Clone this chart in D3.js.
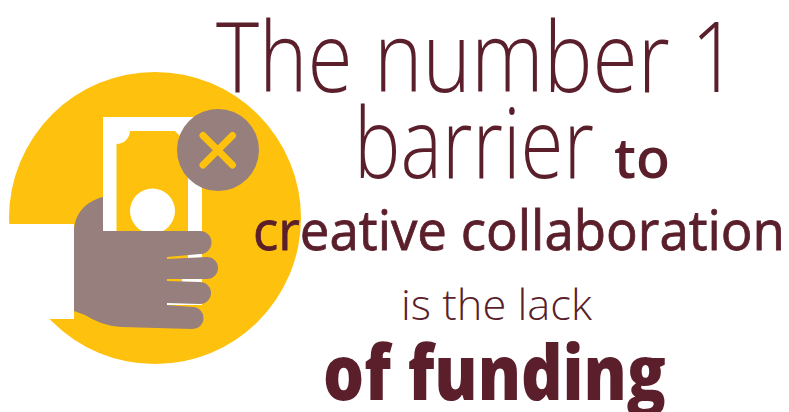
<!DOCTYPE html>
<html><head><meta charset="utf-8"><script src="https://d3js.org/d3.v7.min.js"></script>
<style>html,body{margin:0;background:#fff}svg{display:block}</style></head><body><div id="c"></div>
<script>
const lines=["The number 1","barrier","to","creative collaboration","is the lack","of funding"];
const svg=d3.select("#c").append("svg").attr("width",789).attr("height",412);
const ink="#5a1f2b",gold="#fec10d",grey="#967f7c";
svg.append("circle").attr("cx",155).attr("cy",218).attr("r",146).attr("fill",gold);
svg.append("rect").attr("x",0).attr("y",224).attr("width",74).attr("height",95).attr("fill","#fff");
// bill
svg.append("rect").attr("x",103).attr("y",117).attr("width",99).attr("height",188).attr("fill","#fff");
svg.append("path").attr("fill",gold).attr("d","M130 131H175L188 144V282H116.5V144A13.5 13.5 0 0 0 130 131Z");
svg.append("circle").attr("cx",152.5).attr("cy",211).attr("r",22.5).attr("fill","#fff");
svg.append("rect").attr("x",182).attr("y",279).attr("width",20).attr("height",26).attr("fill","#fff");
svg.append("rect").attr("x",188).attr("y",250).attr("width",14).attr("height",10).attr("fill","#fff");
// badge
svg.append("circle").attr("cx",218).attr("cy",150).attr("r",41).attr("fill",grey);
svg.append("path").attr("d","M203 135.500L232.500 165M232.500 135.500L203 165").attr("stroke",gold).attr("stroke-width",7).attr("stroke-linecap","round").attr("fill","none");
// hand
svg.append("path").attr("fill",grey).attr("d","M103 197C86 201 74 214 74 232V311L85 315C97 322 106 326 122 327L192 329A11 11 0 0 0 193 307L167 305V303L200 304A11 11 0 0 0 200 282L167 281V279H207A11 11 0 0 0 207 257L167 259V257L200 254A11.500 11.500 0 0 0 200 231H103Z");
const F="'Open Sans'";
function t(s,x,y,size,w,len,sw){svg.append("text").text(s).attr("x",x).attr("y",y).attr("font-family",F).attr("font-size",size).attr("font-weight",w).attr("fill",ink).attr("stroke",ink).attr("stroke-width",sw||0).attr("textLength",len).attr("lengthAdjust","spacingAndGlyphs");}
t(lines[0],216,92,98,300,522);
t(lines[1],354,178,98,300,240);
t(lines[2],614,178,56,600,56);
t(lines[3],253,250,54,500,532,0.8);
t(lines[4],401,320,42,300,191);
t(lines[5],323,400,76,800,343);
</script></body></html>
